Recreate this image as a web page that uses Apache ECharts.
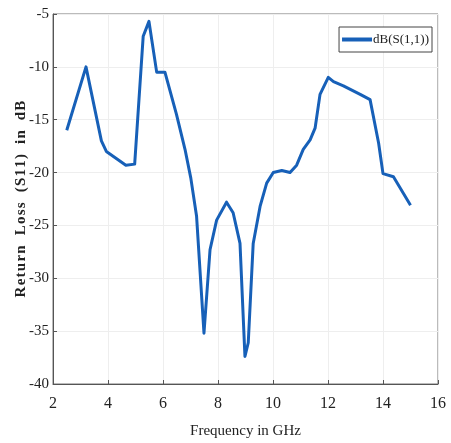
<!DOCTYPE html>
<html>
<head>
<meta charset="utf-8">
<script src="https://cdn.jsdelivr.net/npm/echarts@6/dist/echarts.min.js"></script>
<style>
  html, body { margin: 0; padding: 0; background: #fff; }
  #chart { width: 451px; height: 443px; }
</style>
</head>
<body>
<div id="chart"></div>
<script>
// Measured return loss of the antenna, S11 in dB versus frequency in GHz
const freqGHz = [2.5, 3.2, 3.76, 3.94, 4.65, 4.97, 5.28, 5.49, 5.77, 6.07, 6.49, 6.8, 7.01, 7.22, 7.49,
  7.71, 7.95, 8.31, 8.55, 8.8, 8.98, 9.1, 9.28, 9.53, 9.77, 10.01, 10.32, 10.62, 10.86, 11.1,
  11.35, 11.53, 11.71, 12.01, 12.2, 12.56, 13.17, 13.53, 13.84, 14.0, 14.38, 15.0];
const s11dB = [-16.0, -10.0, -17.0, -18.0, -19.3, -19.2, -7.1, -5.7, -10.5, -10.5, -14.5, -17.8, -20.5, -24.1, -35.2,
  -27.3, -24.5, -22.8, -23.8, -26.7, -37.4, -36.1, -26.7, -23.2, -21.0, -20.0, -19.8, -20.0, -19.3, -17.8,
  -16.9, -15.8, -12.6, -11.0, -11.4, -11.8, -12.6, -13.1, -17.2, -20.1, -20.4, -23.1];
const seriesName = 'dB(S(1,1))';
const xTitle = 'Frequency in GHz';
const yTitle = 'Return Loss (S11) in dB';

// widen the y-axis title a little by putting a hair space between its letters
const spaced = (s) => s.split('').join('\u200A').replace(/ /g, '  ');

const serif = '"Liberation Serif", "DejaVu Serif", serif';
const chart = echarts.init(document.getElementById('chart'));

chart.setOption({
  animation: false,
  backgroundColor: '#fff',
  grid: {
    left: 53, right: 13, top: 14, bottom: 59,
    outerBoundsMode: 'none', containLabel: false,
    show: true, borderColor: '#777', borderWidth: 1, backgroundColor: 'transparent'
  },
  legend: {
    right: 19, top: 27,
    data: [{ name: seriesName, icon: 'rect' }],
    itemWidth: 30, itemHeight: 4, itemGap: 0,
    padding: [6, 3, 6, 3],
    borderColor: '#444', borderWidth: 1, backgroundColor: '#fff',
    textStyle: { fontFamily: serif, fontSize: 13, color: '#222', padding: [0, 0, 0, -4] }
  },
  xAxis: {
    type: 'value', min: 2, max: 16, interval: 2,
    name: xTitle, nameLocation: 'middle', nameGap: 40, nameMoveOverlap: false,
    nameTextStyle: { fontFamily: serif, fontSize: 15, color: '#222' },
    axisLine: { onZero: false, lineStyle: { color: '#555', width: 1 } },
    axisTick: { inside: true, length: 4, lineStyle: { color: '#555' } },
    axisLabel: { fontFamily: serif, fontSize: 16, color: '#222', margin: 12 },
    splitLine: { show: true, lineStyle: { color: '#eee', width: 1 } }
  },
  yAxis: {
    type: 'value', min: -40, max: -5, interval: 5,
    name: spaced(yTitle), nameLocation: 'middle', nameGap: 24, nameMoveOverlap: false,
    nameTextStyle: { fontFamily: serif, fontSize: 15, fontWeight: 'bold', color: '#222' },
    axisLine: { show: true, lineStyle: { color: '#555', width: 1 } },
    axisTick: { show: true, inside: true, length: 4, lineStyle: { color: '#555' } },
    axisLabel: { fontFamily: serif, fontSize: 15, color: '#222', margin: 4 },
    splitLine: { show: true, lineStyle: { color: '#eee', width: 1 } }
  },
  series: [{
    name: seriesName,
    type: 'line',
    data: freqGHz.map((f, i) => [f, s11dB[i]]),
    showSymbol: false,
    lineStyle: { color: '#1760b8', width: 3, join: 'round' },
    itemStyle: { color: '#1760b8' }
  }]
});
</script>
</body>
</html>
